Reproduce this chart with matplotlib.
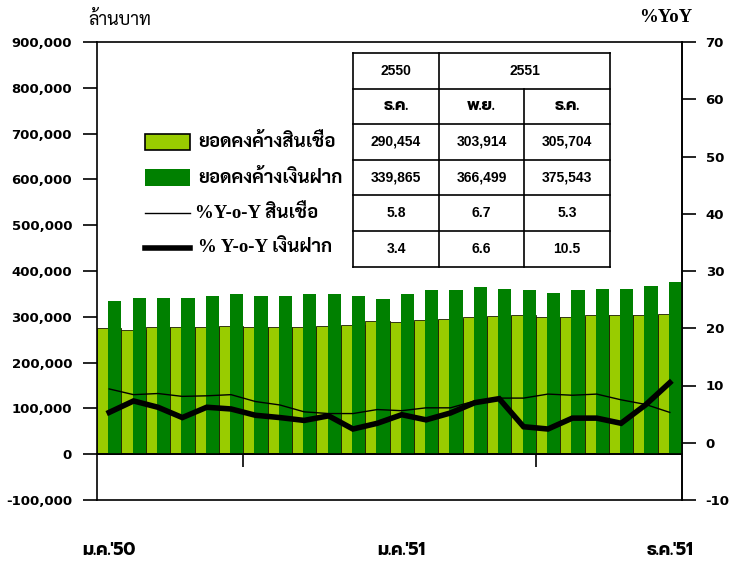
import matplotlib
matplotlib.use('Agg')
import matplotlib.pyplot as plt
from matplotlib.patches import Rectangle
from matplotlib.lines import Line2D
from matplotlib.ticker import FuncFormatter, MultipleLocator

plt.rcParams['axes.unicode_minus'] = False

# monthly data, ม.ค.'50 .. ธ.ค.'51
loans = [276000, 271000, 278000, 278000, 278000, 281000, 278000, 278000,
         278000, 281000, 283000, 290454, 288500, 293000, 296000, 299500,
         302000, 305000, 300000, 300000, 303500, 303500, 303914, 305704]
deposits = [333600, 341700, 341700, 341700, 346000, 349000, 346000, 346000,
            349000, 349000, 346000, 339865, 349000, 359000, 359000, 364000,
            361000, 359000, 351800, 359000, 361000, 361000, 366499, 375543]
loans_yoy = [9.4, 8.4, 8.6, 8.1, 8.2, 8.4, 7.2, 6.6, 5.4, 5.1, 5.1, 5.8,
             5.6, 6.1, 6.1, 7.3, 7.8, 7.8, 8.5, 8.3, 8.5, 7.5, 6.7, 5.3]
deposits_yoy = [5.3, 7.3, 6.2, 4.4, 6.2, 5.9, 4.8, 4.4, 3.9, 4.7, 2.4, 3.4,
                4.9, 4.0, 5.2, 7.0, 7.7, 2.8, 2.4, 4.3, 4.3, 3.4, 6.6, 10.5]

xlabel_pos = [0, 12, 23]
xlabel_text = ["ม.ค.'50", "ม.ค.'51", "ธ.ค.'51"]

legend_labels = ['ยอดคงค้างสินเชื่อ', 'ยอดคงค้างเงินฝาก',
                 '%Y-o-Y สินเชื่อ', '% Y-o-Y เงินฝาก']

table_years = ['2550', '2551']
table_months = ['ธ.ค.', 'พ.ย.', 'ธ.ค.']
table_rows = [['290,454', '303,914', '305,704'],
              ['339,865', '366,499', '375,543'],
              ['5.8', '6.7', '5.3'],
              ['3.4', '6.6', '10.5']]

LIGHT = '#99cc00'
DARK = '#008000'
W, H = 731, 564

THAI = ['Sarabun', 'DejaVu Sans']
THAI_PLAIN = ['Prompt', 'Liberation Sans']
SERIF = ['Liberation Serif', 'Sarabun']


def fx(x):
    return x / W


def fy(y):
    return 1 - y / H


fig = plt.figure(figsize=(W / 100, H / 100), dpi=100)
ax = fig.add_axes([fx(97), fy(500), 585 / W, 458 / H])
ax2 = ax.twinx()

n = len(loans)
xs = list(range(n))

ax.bar(xs, loans, width=1.0, align='edge', color=LIGHT,
       edgecolor='#1a1a00', linewidth=0.6, zorder=2)
ax.bar([x + 0.46 for x in xs], deposits, width=0.54, align='edge',
       color=DARK, linewidth=0, zorder=3)
ax.axhline(0, color='black', lw=1.2, zorder=4)

ax.set_xlim(0, n)
ax.set_ylim(-100000, 900000)
ax.yaxis.set_major_locator(MultipleLocator(100000))
ax.yaxis.set_major_formatter(FuncFormatter(lambda v, p: '{:,.0f}'.format(v)))
ax.tick_params(axis='y', direction='out', length=10, width=1.2, pad=8,
               labelsize=9.5)
for t in ax.get_yticklabels():
    t.set_fontweight('bold')

# x ticks sit on the zero line
ax.spines['bottom'].set_position(('data', 0))
ax.spines['bottom'].set_linewidth(1.2)
ax.set_xticks([6, 18])
ax.set_xticklabels([])
ax.tick_params(axis='x', direction='out', length=9, width=1.2)
ax.add_line(Line2D([0, 1], [0, 0], transform=ax.transAxes, color='black',
                   lw=1.2, clip_on=False))
for s in ['left', 'top', 'right']:
    ax.spines[s].set_linewidth(1.2)

ax2.plot([x + 0.5 for x in xs], loans_yoy, color='black', lw=1.0, zorder=5)
ax2.plot([x + 0.5 for x in xs], deposits_yoy, color='black', lw=4.0,
         solid_joinstyle='miter', zorder=5)
ax2.set_ylim(-10, 70)
ax2.yaxis.set_major_locator(MultipleLocator(10))
ax2.tick_params(axis='y', direction='out', length=10, width=1.2, pad=7,
                labelsize=9.5)
for t in ax2.get_yticklabels():
    t.set_fontweight('bold')
for s in ax2.spines.values():
    s.set_visible(False)
ax2.spines['right'].set_visible(True)
ax2.spines['right'].set_linewidth(1.2)

# x labels
for p, t in zip(xlabel_pos, xlabel_text):
    ax.text(p + 0.5, -0.111, t, transform=ax.get_xaxis_transform(),
            ha='center', va='center', fontsize=12.5, fontweight='bold',
            family=THAI_PLAIN)

fig.text(fx(88), fy(20), 'ล้านบาท', ha='left', va='center', fontsize=13,
         family=THAI)
fig.text(fx(692), fy(18), '%YoY', ha='right', va='center', fontsize=13.5,
         fontweight='bold', family=SERIF)

# legend
fig.add_artist(Rectangle((fx(145), fy(150)), 45 / W, 16 / H,
                         transform=fig.transFigure, facecolor=LIGHT,
                         edgecolor='black', lw=1.2))
fig.add_artist(Rectangle((fx(145), fy(186)), 45 / W, 17 / H,
                         transform=fig.transFigure, facecolor=DARK,
                         edgecolor='none'))
fig.add_artist(Line2D([fx(145), fx(190)], [fy(213), fy(213)],
                      transform=fig.transFigure, color='black', lw=1.0))
fig.add_artist(Line2D([fx(145), fx(190)], [fy(248), fy(248)],
                      transform=fig.transFigure, color='black', lw=4.0))
leg_y = [142, 178, 213, 248]
leg_x = [198, 198, 195, 198]
for i, lab in enumerate(legend_labels):
    fam = THAI if i < 2 else SERIF
    fig.text(fx(leg_x[i]), fy(leg_y[i]), lab, ha='left', va='center',
             fontsize=13.5, fontweight='bold', family=fam)

# table
cols = [353, 439, 524, 610]
rows = [53, 89, 124, 160, 195, 231, 267]
tl = dict(transform=fig.transFigure, color='black', lw=1.2)
for y in rows:
    fig.add_artist(Line2D([fx(cols[0]), fx(cols[-1])], [fy(y), fy(y)], **tl))
for i, x in enumerate(cols):
    top = rows[1] if i == 2 else rows[0]
    fig.add_artist(Line2D([fx(x), fx(x)], [fy(top), fy(rows[-1])], **tl))
ccols = [(cols[i] + cols[i + 1]) / 2 for i in range(3)]
crows = [(rows[i] + rows[i + 1]) / 2 for i in range(6)]
tx = dict(ha='center', va='center', fontsize=10, fontweight='bold',
          family=['Liberation Sans'])
fig.text(fx(ccols[0]), fy(crows[0]), table_years[0], **tx)
fig.text(fx((cols[1] + cols[3]) / 2), fy(crows[0]), table_years[1], **tx)
for j, m in enumerate(table_months):
    fig.text(fx(ccols[j]), fy(crows[1]), m, ha='center', va='center',
             fontsize=11.5, fontweight='bold', family=THAI_PLAIN)
for i, r in enumerate(table_rows):
    for j, v in enumerate(r):
        fig.text(fx(ccols[j]), fy(crows[i + 2]), v, **tx)

fig.savefig('out.png', dpi=100)
